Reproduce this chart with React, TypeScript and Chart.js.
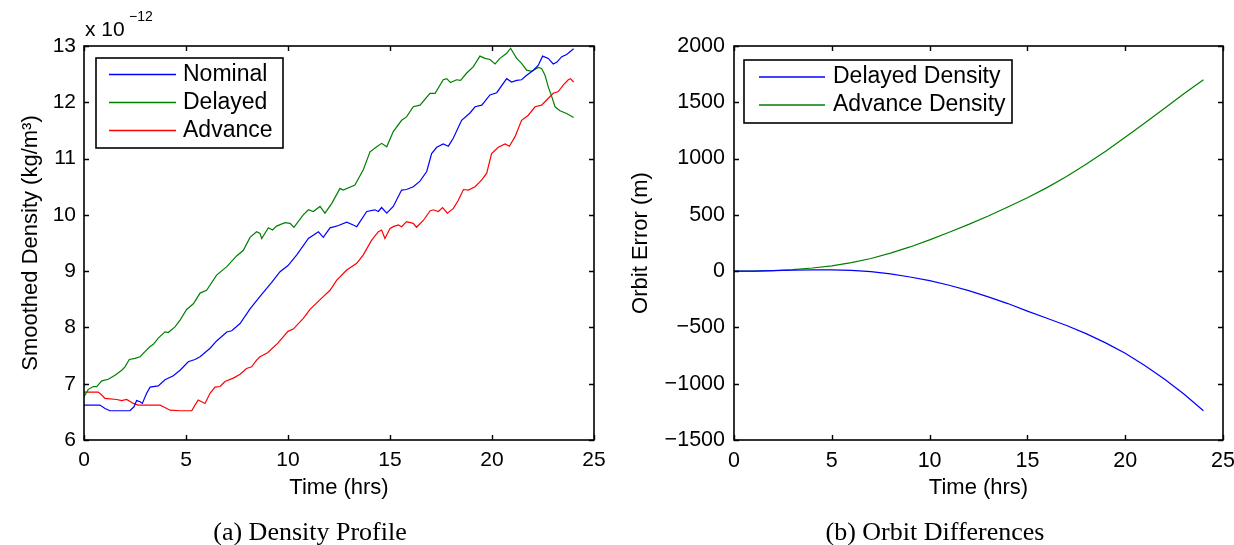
import React, { useEffect, useRef } from 'react';
import { Chart, registerables } from 'chart.js';

Chart.register(...registerables);

// ---------- Data: (a) Density Profile (x 1e-12 kg/m^3) ----------
const nominalTime = [0, 0.78, 1.03, 1.27, 2.25, 2.45, 2.58, 2.75, 2.86, 3.07, 3.24, 3.64, 3.97, 4.38, 4.71, 5.11, 5.44, 5.69, 6.18, 6.5, 7.0, 7.24, 7.65, 8.14, 8.63, 9.2, 9.61, 10.0, 10.43, 11.0, 11.49, 11.73, 12.06, 12.29, 12.47, 12.88, 13.2, 13.37, 13.86, 14.26, 14.43, 14.59, 14.84, 15.16, 15.57, 15.81, 16.14, 16.47, 16.8, 17.04, 17.29, 17.61, 17.86, 18.1, 18.51, 18.92, 19.17, 19.5, 19.9, 20.23, 20.72, 20.96, 21.21, 21.45, 21.7, 22.03, 22.27, 22.48, 22.76, 23.0, 23.17, 23.42, 23.66, 24.0];
const nominalValue = [6.62, 6.62, 6.56, 6.52, 6.52, 6.59, 6.70, 6.68, 6.65, 6.83, 6.94, 6.96, 7.07, 7.14, 7.24, 7.39, 7.43, 7.48, 7.63, 7.76, 7.92, 7.94, 8.07, 8.33, 8.55, 8.80, 8.99, 9.10, 9.29, 9.58, 9.70, 9.60, 9.77, 9.79, 9.81, 9.87, 9.82, 9.79, 10.06, 10.09, 10.06, 10.13, 10.03, 10.15, 10.44, 10.45, 10.50, 10.60, 10.77, 11.09, 11.20, 11.26, 11.22, 11.36, 11.68, 11.81, 11.92, 11.95, 12.13, 12.17, 12.42, 12.36, 12.39, 12.40, 12.48, 12.57, 12.66, 12.82, 12.78, 12.68, 12.71, 12.81, 12.85, 12.95];

const delayedTime = [0, 0.21, 0.46, 0.62, 0.87, 1.19, 1.52, 1.85, 2.01, 2.22, 2.5, 2.75, 2.99, 3.24, 3.4, 3.64, 3.97, 4.13, 4.46, 4.71, 5.03, 5.36, 5.69, 6.01, 6.5, 7.0, 7.48, 7.81, 8.14, 8.46, 8.63, 8.71, 9.04, 9.24, 9.44, 9.85, 10.1, 10.29, 10.75, 11.0, 11.24, 11.57, 11.81, 12.14, 12.55, 12.71, 13.28, 13.69, 14.02, 14.35, 14.59, 14.84, 15.16, 15.57, 15.81, 16.14, 16.47, 16.96, 17.21, 17.61, 17.78, 17.97, 18.26, 18.46, 18.76, 19.08, 19.41, 19.66, 19.9, 20.15, 20.39, 20.72, 20.91, 21.21, 21.45, 21.7, 21.94, 22.27, 22.43, 22.6, 22.76, 22.93, 23.09, 23.33, 23.66, 24.0];
const delayedValue = [6.77, 6.90, 6.95, 6.95, 7.05, 7.08, 7.15, 7.24, 7.30, 7.43, 7.45, 7.48, 7.57, 7.66, 7.70, 7.81, 7.92, 7.91, 8.01, 8.13, 8.32, 8.42, 8.61, 8.66, 8.93, 9.08, 9.27, 9.37, 9.60, 9.70, 9.67, 9.58, 9.77, 9.73, 9.80, 9.86, 9.85, 9.78, 10.00, 10.09, 10.06, 10.15, 10.03, 10.20, 10.47, 10.44, 10.53, 10.80, 11.12, 11.21, 11.27, 11.21, 11.48, 11.68, 11.74, 11.92, 11.95, 12.16, 12.16, 12.40, 12.42, 12.35, 12.40, 12.39, 12.52, 12.63, 12.82, 12.78, 12.76, 12.68, 12.78, 12.87, 12.96, 12.78, 12.69, 12.57, 12.55, 12.62, 12.60, 12.48, 12.27, 12.10, 11.92, 11.85, 11.80, 11.73];

const advanceTime = [0, 0.7, 0.87, 1.03, 1.6, 1.85, 2.09, 2.42, 2.66, 3.73, 3.89, 4.22, 4.71, 5.28, 5.44, 5.6, 5.77, 5.93, 6.18, 6.42, 6.67, 6.91, 7.32, 7.65, 7.97, 8.22, 8.46, 8.63, 9.0, 9.5, 10.0, 10.26, 10.75, 11.08, 11.65, 12.06, 12.39, 12.88, 13.37, 13.69, 14.1, 14.43, 14.59, 14.75, 15.0, 15.16, 15.41, 15.57, 15.81, 16.14, 16.3, 16.63, 16.96, 17.12, 17.37, 17.58, 17.81, 18.1, 18.35, 18.6, 18.84, 19.17, 19.5, 19.74, 19.98, 20.31, 20.64, 20.85, 21.13, 21.45, 21.78, 22.11, 22.43, 22.68, 23.0, 23.25, 23.5, 23.74, 23.85, 24.0];
const advanceValue = [6.85, 6.85, 6.80, 6.74, 6.72, 6.70, 6.72, 6.65, 6.62, 6.62, 6.59, 6.53, 6.52, 6.52, 6.62, 6.71, 6.68, 6.65, 6.83, 6.94, 6.95, 7.04, 7.10, 7.17, 7.27, 7.30, 7.42, 7.48, 7.55, 7.72, 7.93, 7.97, 8.16, 8.32, 8.52, 8.66, 8.84, 9.02, 9.14, 9.29, 9.55, 9.70, 9.73, 9.58, 9.76, 9.79, 9.82, 9.79, 9.88, 9.85, 9.78, 9.90, 10.07, 10.09, 10.06, 10.13, 10.03, 10.11, 10.26, 10.45, 10.44, 10.50, 10.62, 10.74, 11.09, 11.20, 11.26, 11.22, 11.39, 11.68, 11.77, 11.92, 11.95, 12.04, 12.16, 12.19, 12.31, 12.40, 12.42, 12.36];

// ---------- Data: (b) Orbit Differences (m) ----------
const orbitTime = [0, 1, 2, 3, 4, 5, 6, 7, 8, 9, 10, 11, 12, 13, 14, 15, 16, 17, 18, 19, 20, 21, 22, 23, 24];
const delayedDensityError = [0, 1, 4, 8, 11, 11, 6, -5, -25, -52, -85, -125, -173, -228, -288, -355, -418, -483, -555, -637, -730, -838, -958, -1092, -1240];
const advanceDensityError = [0, 1, 5, 14, 28, 47, 75, 112, 160, 215, 278, 345, 415, 490, 570, 652, 742, 840, 950, 1065, 1190, 1315, 1445, 1575, 1700];

const timeTicks = [0, 5, 10, 15, 20, 25];
const densityTicks = [6, 7, 8, 9, 10, 11, 12, 13];
const errorTicks = [-1500, -1000, -500, 0, 500, 1000, 1500, 2000];

const SANS = '"Liberation Sans", Arial, Helvetica, sans-serif';
const SERIF = '"Liberation Serif", "Times New Roman", serif';

const pts = (xs: number[], ys: number[]) => xs.map((x, i) => ({ x, y: ys[i] }));

function framePlugin(tickLen: number) {
  return {
    id: 'matlabFrame',
    afterDatasetsDraw(chart: any) {
      const { ctx, chartArea, scales } = chart;
      const { left, right, top, bottom } = chartArea;
      const x = scales.x;
      const y = scales.y;
      ctx.save();
      ctx.strokeStyle = '#000';
      ctx.lineWidth = 1.4;
      ctx.beginPath();
      x.ticks.forEach((t: any) => {
        const px = Math.round(x.getPixelForValue(t.value)) + 0.5;
        ctx.moveTo(px, bottom);
        ctx.lineTo(px, bottom - tickLen);
        ctx.moveTo(px, top);
        ctx.lineTo(px, top + tickLen);
      });
      y.ticks.forEach((t: any) => {
        const py = Math.round(y.getPixelForValue(t.value)) + 0.5;
        ctx.moveTo(left, py);
        ctx.lineTo(left + tickLen, py);
        ctx.moveTo(right, py);
        ctx.lineTo(right - tickLen, py);
      });
      ctx.stroke();
      ctx.lineWidth = 1.6;
      ctx.strokeRect(left, top, right - left, bottom - top);
      ctx.restore();
    },
  };
}

type LegendItem = { label: string; color: string };
function legendPlugin(cfg: {
  box: [number, number, number, number];
  rows: number[];
  lineX: [number, number];
  textX: number;
  fontSize: number;
  items: LegendItem[];
}) {
  return {
    id: 'boxLegend',
    afterDraw(chart: any) {
      const { ctx } = chart;
      const [bx, by, bw, bh] = cfg.box;
      ctx.save();
      ctx.fillStyle = '#fff';
      ctx.fillRect(bx, by, bw, bh);
      ctx.strokeStyle = '#000';
      ctx.lineWidth = 1.6;
      ctx.strokeRect(bx, by, bw, bh);
      ctx.font = `${cfg.fontSize}px ${SANS}`;
      ctx.textBaseline = 'middle';
      ctx.textAlign = 'left';
      cfg.items.forEach((it, i) => {
        const ry = cfg.rows[i];
        ctx.strokeStyle = it.color;
        ctx.lineWidth = 1.3;
        ctx.beginPath();
        ctx.moveTo(cfg.lineX[0], ry);
        ctx.lineTo(cfg.lineX[1], ry);
        ctx.stroke();
        ctx.fillStyle = '#000';
        ctx.fillText(it.label, cfg.textX, ry);
      });
      ctx.restore();
    },
  };
}

type TextItem = { text: string; x: number; y: number; font: string; align: CanvasTextAlign };
function textPlugin(items: TextItem[]) {
  return {
    id: 'extraText',
    afterDraw(chart: any) {
      const { ctx } = chart;
      ctx.save();
      ctx.fillStyle = '#000';
      ctx.textBaseline = 'alphabetic';
      items.forEach((t) => {
        ctx.font = t.font;
        ctx.textAlign = t.align;
        ctx.fillText(t.text, t.x, t.y);
      });
      ctx.restore();
    },
  };
}

const fmt = (v: any) => String(v).replace('-', '\u2212');

function makeXScale(tickSize: number, tickPad: number, titlePadBottom: number) {
  return {
    type: 'linear',
    min: 0,
    max: 25,
    afterBuildTicks: (s: any) => {
      s.ticks = timeTicks.map((v) => ({ value: v }));
    },
    ticks: { color: '#000', font: { family: SANS, size: tickSize }, padding: tickPad, maxRotation: 0, autoSkip: false, callback: fmt },
    grid: { display: false, drawTicks: false },
    border: { display: false },
    title: { display: true, text: 'Time (hrs)', color: '#000', font: { family: SANS, size: 22 }, padding: { top: 0, bottom: titlePadBottom } },
    afterFit: (s: any) => {
      s.height = 105;
      s.paddingLeft = 0;
      s.paddingRight = 0;
    },
  };
}

function makeYScale(min: number, max: number, ticks: number[], title: string, width: number, tickSize: number, tickPad: number, titlePad: number) {
  return {
    type: 'linear',
    min,
    max,
    afterBuildTicks: (s: any) => {
      s.ticks = ticks.map((v) => ({ value: v }));
    },
    ticks: { color: '#000', font: { family: SANS, size: tickSize }, padding: tickPad, autoSkip: false, callback: fmt },
    grid: { display: false, drawTicks: false },
    border: { display: false },
    title: { display: true, text: title, color: '#000', font: { family: SANS, size: 22 }, padding: { top: titlePad, bottom: 0 } },
    afterFit: (s: any) => {
      s.width = width;
      s.paddingTop = 0;
      s.paddingBottom = 0;
    },
  };
}

const lineStyle = { borderWidth: 1.2, pointRadius: 0, tension: 0, fill: false };

export default function App() {
  const leftRef = useRef<HTMLCanvasElement>(null);
  const rightRef = useRef<HTMLCanvasElement>(null);

  useEffect(() => {
    const left = new Chart(leftRef.current as HTMLCanvasElement, {
      type: 'line',
      data: {
        datasets: [
          { label: 'Nominal', data: pts(nominalTime, nominalValue), borderColor: '#0000ff', ...lineStyle },
          { label: 'Delayed', data: pts(delayedTime, delayedValue), borderColor: '#008000', ...lineStyle },
          { label: 'Advance', data: pts(advanceTime, advanceValue), borderColor: '#ff0000', ...lineStyle },
        ],
      },
      options: {
        animation: false,
        responsive: false,
        parsing: false,
        normalized: true,
        layout: { padding: { left: 0, top: 46, right: 640, bottom: 0 } },
        plugins: { legend: { display: false }, tooltip: { enabled: false } },
        scales: {
          x: makeXScale(21, 7.4, 43.4),
          y: makeYScale(6, 13, densityTicks, 'Smoothed Density (kg/m\u00B3)', 84, 21, 8, 17.8),
        } as any,
      },
      plugins: [
        framePlugin(5),
        legendPlugin({
          box: [96, 58, 187, 90],
          rows: [74.5, 102.5, 130.5],
          lineX: [109, 176],
          textX: 183,
          fontSize: 23,
          items: [
            { label: 'Nominal', color: '#0000ff' },
            { label: 'Delayed', color: '#008000' },
            { label: 'Advance', color: '#ff0000' },
          ],
        }),
        textPlugin([
          { text: 'x 10', x: 85, y: 35.5, font: `21px ${SANS}`, align: 'left' },
          { text: '\u221212', x: 129, y: 21, font: `14px ${SANS}`, align: 'left' },
          { text: '(a) Density Profile', x: 310, y: 540, font: `26px ${SERIF}`, align: 'center' },
        ]),
      ],
    } as any);

    const right = new Chart(rightRef.current as HTMLCanvasElement, {
      type: 'line',
      data: {
        datasets: [
          { label: 'Delayed Density', data: pts(orbitTime, delayedDensityError), borderColor: '#0000ff', ...lineStyle },
          { label: 'Advance Density', data: pts(orbitTime, advanceDensityError), borderColor: '#008000', ...lineStyle },
        ],
      },
      options: {
        animation: false,
        responsive: false,
        parsing: false,
        normalized: true,
        layout: { padding: { left: 617, top: 46, right: 11, bottom: 0 } },
        plugins: { legend: { display: false }, tooltip: { enabled: false } },
        scales: {
          x: makeXScale(21.5, 7.8, 43.4),
          y: makeYScale(-1500, 2000, errorTicks, 'Orbit Error (m)', 117, 21.5, 9, 10.3),
        } as any,
      },
      plugins: [
        framePlugin(5),
        legendPlugin({
          box: [744, 60, 268, 63],
          rows: [77, 105],
          lineX: [759, 825],
          textX: 833,
          fontSize: 23,
          items: [
            { label: 'Delayed Density', color: '#0000ff' },
            { label: 'Advance Density', color: '#008000' },
          ],
        }),
        textPlugin([{ text: '(b) Orbit Differences', x: 935, y: 540, font: `26px ${SERIF}`, align: 'center' }]),
      ],
    } as any);

    return () => {
      left.destroy();
      right.destroy();
    };
  }, []);

  const canvasStyle: React.CSSProperties = { position: 'absolute', left: 0, top: 0, width: 1234, height: 545 };
  return (
    <div style={{ position: 'absolute', left: 0, top: 0, width: 1234, height: 545, background: '#fff' }}>
      <canvas ref={leftRef} width={1234} height={545} style={canvasStyle} />
      <canvas ref={rightRef} width={1234} height={545} style={canvasStyle} />
    </div>
  );
}
